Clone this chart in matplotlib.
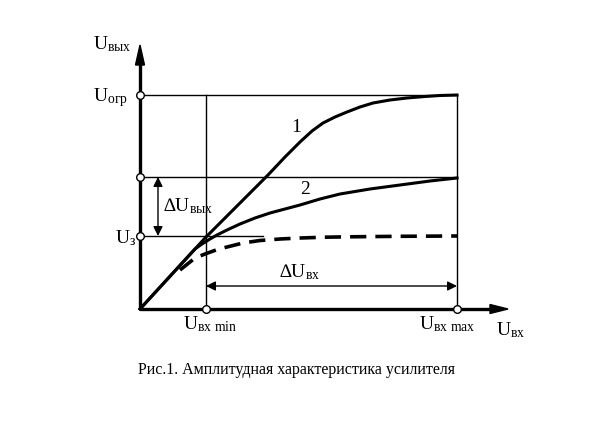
import numpy as np
import matplotlib.pyplot as plt

plt.rcParams['font.family'] = 'Liberation Serif'
plt.rcParams['mathtext.fontset'] = 'custom'
plt.rcParams['mathtext.rm'] = 'Liberation Serif'
plt.rcParams['mathtext.it'] = 'Liberation Serif'

# levels (schematic units, origin at axes crossing)
u_ogr = 214
u_mid = 132
u_z = 73
x_min = 66
x_max = 317

# curve 1
c1_x = [0, 66, 110, 128, 145, 160, 172, 183, 195, 207, 220, 233, 250, 267, 285, 300, 317]
c1_y = [0, 72, 116, 134, 152, 167, 178, 186, 192, 197, 202, 206, 209, 211, 212.5, 213.5, 214]
# curve 2
c2_x = [0, 55, 62, 70, 77, 87, 100, 115, 130, 145, 160, 180, 200, 230, 260, 290, 317]
c2_y = [0, 60, 65, 70, 74, 79, 85, 91, 96, 100, 104, 110, 115, 120, 124, 128, 131]
# dashed curve
c3_x = [40, 55, 65, 76, 87, 103, 120, 140, 160, 185, 210, 260, 317]
c3_y = [39, 51, 55, 59, 62, 66, 68.5, 70, 71, 71.8, 72.2, 72.7, 73]

fig = plt.figure(figsize=(6.06, 4.26), dpi=100)
ax = fig.add_axes([0, 0, 1, 1])
ax.set_xlim(-140, 466)
ax.set_ylim(-117, 309)
ax.axis('off')

# axes with arrows
ax.plot([0, 350], [0, 0], color='black', lw=2.4, solid_capstyle='butt')
ax.plot([0, 0], [0, 246], color='black', lw=2.4, solid_capstyle='butt')
ax.fill([350, 368, 350], [-4.5, 0, 4.5], color='black')
ax.fill([-4.5, 0, 4.5], [244, 264, 244], color='black')

# thin guide lines
ax.plot([0, x_max], [u_ogr, u_ogr], color='black', lw=1)
ax.plot([0, x_max], [u_mid, u_mid], color='black', lw=1)
ax.plot([0, 123], [u_z, u_z], color='black', lw=1)
ax.plot([x_min, x_min], [0, u_ogr], color='black', lw=1)
ax.plot([x_max, x_max], [0, u_ogr], color='black', lw=1)

# curves
ax.plot(c1_x, c1_y, color='black', lw=2.2, solid_joinstyle='round')
ax.plot(c2_x, c2_y, color='black', lw=2.2, solid_joinstyle='round')
ax.plot(c3_x, c3_y, color='black', lw=2.6, dashes=(4.5, 2.5))

# open circles
ax.plot([0, 0, 0, x_min, x_max], [u_ogr, u_mid, u_z, 0, 0], 'o', ms=5.5,
        mfc='white', mec='black', mew=1, zorder=5)

# dimension arrows
ax.annotate('', xy=(18, u_mid), xytext=(18, u_z),
            arrowprops=dict(arrowstyle='<|-|>', color='black', lw=1,
                            mutation_scale=14, shrinkA=0, shrinkB=0))
ax.annotate('', xy=(x_min, 23), xytext=(x_max, 23),
            arrowprops=dict(arrowstyle='<|-|>', color='black', lw=1,
                            mutation_scale=14, shrinkA=0, shrinkB=0))

# labels
fs = 14
ax.text(-47, 265, r'$\mathrm{U}_{\mathrm{вых}}$', fontsize=fs, va='center', ha='left')
ax.text(-47, 211, r'$\mathrm{U}_{\mathrm{огр}}$', fontsize=fs, va='center', ha='left')
ax.text(-25, 71, r'$\mathrm{U}_{\mathrm{з}}$', fontsize=fs, va='center', ha='left')
ax.text(23, 103, r'$\mathrm{∆U}_{\mathrm{вых}}$', fontsize=fs, va='center', ha='left')
ax.text(160, 37, r'$\mathrm{∆U}_{\mathrm{вх}}$', fontsize=fs, va='center', ha='center')
ax.text(70, -15, r'$\mathrm{U}_{\mathrm{вх\ min}}$', fontsize=fs, va='center', ha='center')
ax.text(307, -15, r'$\mathrm{U}_{\mathrm{вх\ max}}$', fontsize=fs, va='center', ha='center')
ax.text(371, -21, r'$\mathrm{U}_{\mathrm{вх}}$', fontsize=fs, va='center', ha='center')
ax.text(156, 181, '1', fontsize=fs, va='center', ha='center')
ax.text(165, 119, '2', fontsize=fs, va='center', ha='center')
ax.text(156, -61, 'Рис.1. Амплитудная характеристика усилителя', fontsize=11.5,
        va='center', ha='center')

fig.savefig('out.png', dpi=100)
